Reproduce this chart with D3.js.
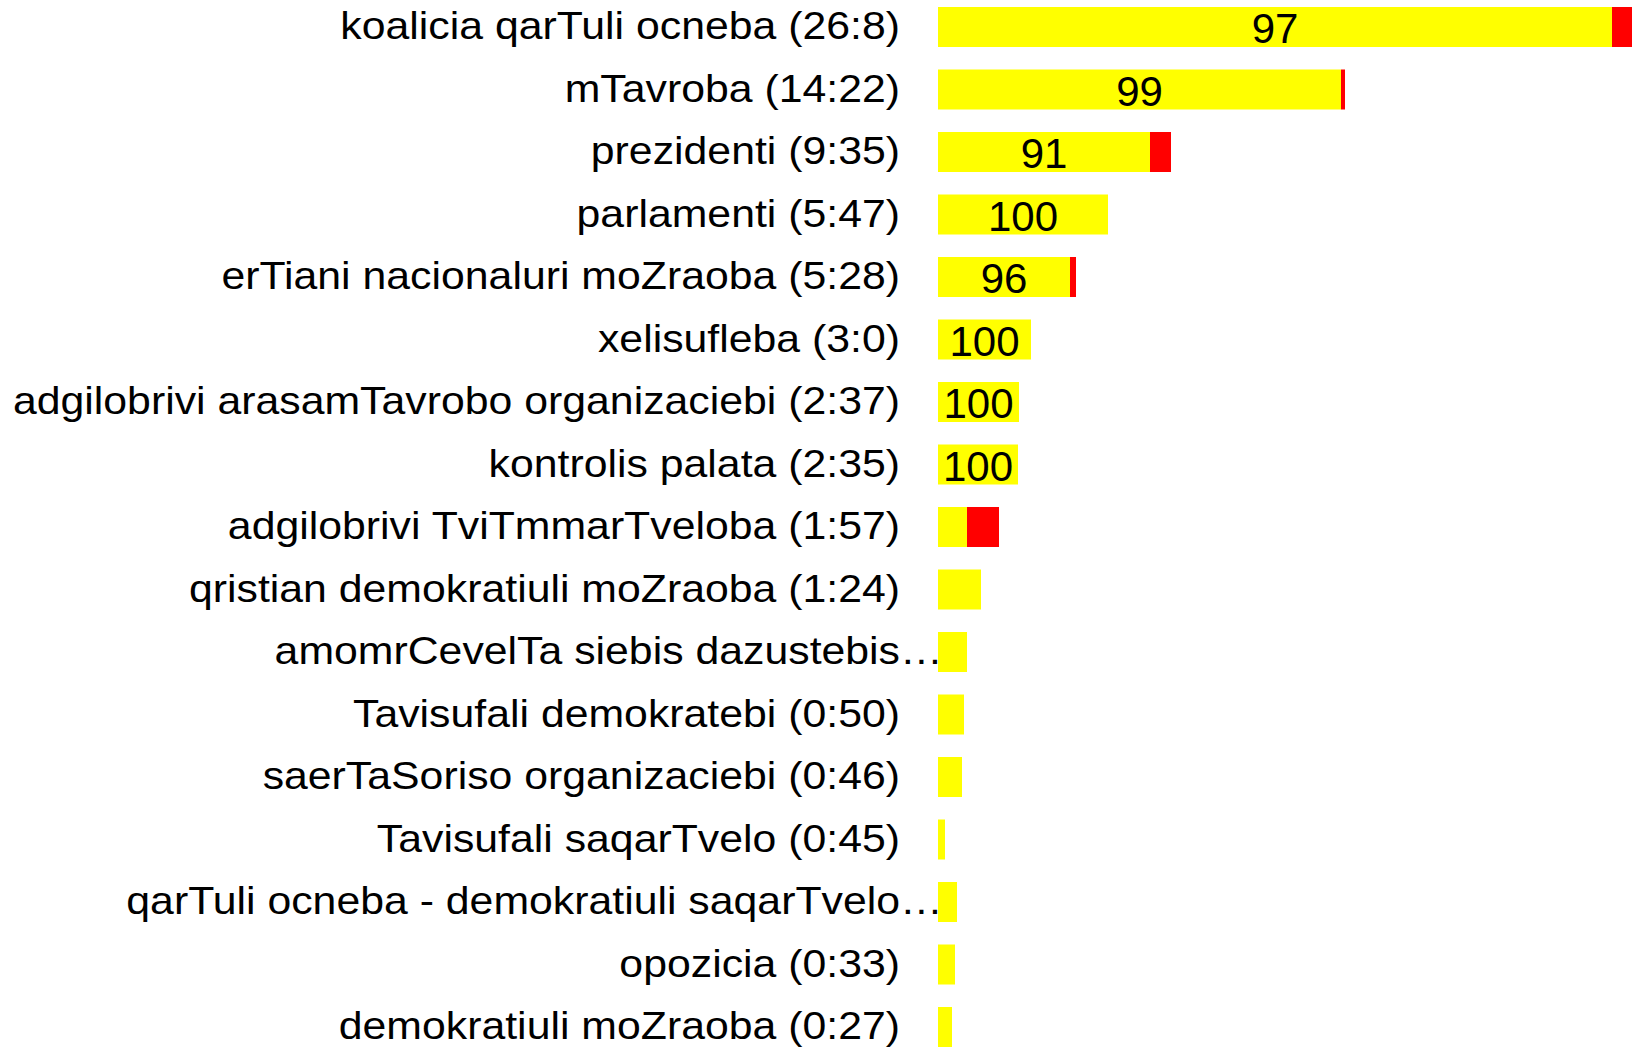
<!DOCTYPE html>
<html>
<head>
<meta charset="utf-8">
<script src="https://cdn.jsdelivr.net/npm/d3@7"></script>
<style>
  html, body { margin: 0; padding: 0; background: #fff; }
  svg { display: block; }
</style>
</head>
<body>
<svg id="chart" width="1636" height="1047"></svg>
<script>
const categories = [
  "koalicia qarTuli ocneba (26:8)",
  "mTavroba (14:22)",
  "prezidenti (9:35)",
  "parlamenti (5:47)",
  "erTiani nacionaluri moZraoba (5:28)",
  "xelisufleba (3:0)",
  "adgilobrivi arasamTavrobo organizaciebi (2:37)",
  "kontrolis palata (2:35)",
  "adgilobrivi TviTmmarTveloba (1:57)",
  "qristian demokratiuli moZraoba (1:24)",
  "amomrCevelTa siebis dazustebis…",
  "Tavisufali demokratebi (0:50)",
  "saerTaSoriso organizaciebi (0:46)",
  "Tavisufali saqarTvelo (0:45)",
  "qarTuli ocneba - demokratiuli saqarTvelo…",
  "opozicia (0:33)",
  "demokratiuli moZraoba (0:27)"
];
const positive = [674, 403, 212, 170, 132, 93, 81, 80, 29, 43, 29, 26, 24, 7, 19, 17, 14];
const negative = [20, 4, 21, 0, 6, 0, 0, 0, 32, 0, 0, 0, 0, 0, 0, 0, 0];
const pctLabels = [97, 99, 91, 100, 96, 100, 100, 100, null, null, null, null, null, null, null, null, null];

const svg = d3.select("#chart");

const rows = categories.map((c, i) => ({c, i, pos: positive[i], neg: negative[i], pct: pctLabels[i]}));

const y = d3.scaleBand()
  .domain(d3.range(rows.length))
  .range([-4.25, 1058.25])
  .paddingInner(0.36)
  .paddingOuter(0.18);

const maxTotal = d3.max(rows, d => d.pos + d.neg);
const x = d3.scaleLinear().domain([0, maxTotal]).range([938, 1632]);

const fontFam = "Arial, 'Liberation Sans', Helvetica, sans-serif";

const g = svg.append("g");

g.selectAll("rect.pos").data(rows).join("rect")
  .attr("class", "pos")
  .attr("x", x(0))
  .attr("y", d => y(d.i))
  .attr("width", d => x(d.pos) - x(0))
  .attr("height", y.bandwidth())
  .attr("fill", "#ffff00");

g.selectAll("rect.neg").data(rows.filter(d => d.neg > 0)).join("rect")
  .attr("class", "neg")
  .attr("x", d => x(d.pos))
  .attr("y", d => y(d.i))
  .attr("width", d => x(d.pos + d.neg) - x(d.pos))
  .attr("height", y.bandwidth())
  .attr("fill", "#ff0000");

g.selectAll("text.pct").data(rows.filter(d => d.pct != null)).join("text")
  .attr("class", "pct")
  .attr("x", d => (x(0) + x(d.pos)) / 2)
  .attr("y", d => y(d.i) + y.bandwidth() / 2 + 16)
  .attr("text-anchor", "middle")
  .attr("font-family", fontFam)
  .attr("font-size", 42)
  .attr("fill", "#000")
  .text(d => d.pct);

const labelX = 900;
const labelSize = 42.8;
const ell = svg.append("text").attr("font-family", fontFam).attr("font-size", labelSize).text("…");
const ellW = ell.node().getComputedTextLength();
ell.remove();

g.selectAll("text.cat").data(rows).join("text")
  .attr("class", "cat")
  .attr("transform", d => `translate(${d.c.endsWith("…") ? labelX + ellW : labelX},${y(d.i) + y.bandwidth() / 2 + 12}) scale(1,0.9)`)
  .attr("text-anchor", "end")
  .attr("font-family", fontFam)
  .attr("font-size", labelSize)
  .attr("fill", "#000")
  .text(d => d.c);
</script>
</body>
</html>
